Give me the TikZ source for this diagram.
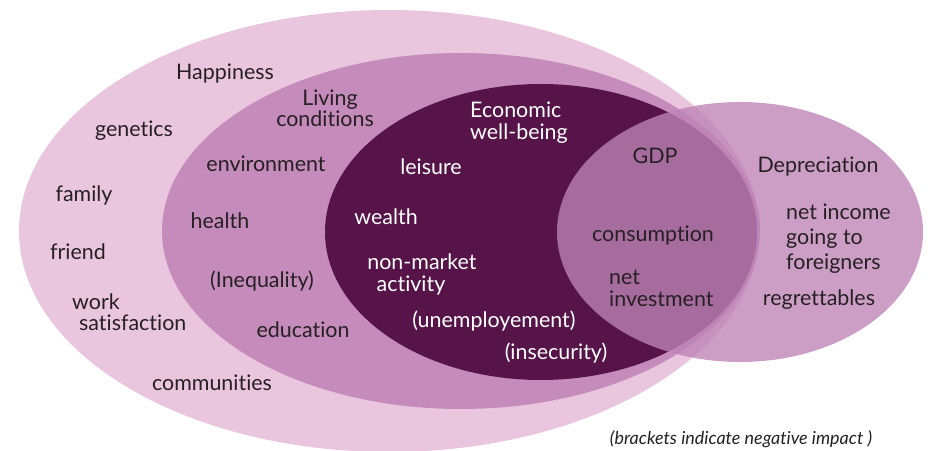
\documentclass[tikz,border=0pt]{standalone}
\usepackage{fontspec}
\setmainfont{Lato}[Ligatures=NoCommon]
\usetikzlibrary{calc, positioning}

\definecolor{happy-pink}{RGB}{233,198,221}
\definecolor{living-pink}{RGB}{196,139,187}
\definecolor{econ-plum}{RGB}{86,20,73}
\definecolor{gdp-mauve}{RGB}{190,132,182}
\definecolor{label-ink}{RGB}{38,32,35}

\tikzset{
  dark-label/.style={text=label-ink, inner sep=0pt, font=\fontsize{21.5}{22}\selectfont},
  light-label/.style={dark-label, text=white},
  note-label/.style={text=label-ink, inner sep=0pt, font=\fontsize{18}{19}\selectfont\itshape}
}

\begin{document}
\begin{tikzpicture}[x=1bp, y=-1bp]

  \useasboundingbox (0, 0) rectangle (933, 451);

  \coordinate (happy-c)  at (389, 231);
  \coordinate (living-c) at (461, 231);
  \coordinate (econ-c)   at (541, 232);
  \coordinate (gdp-c)    at (740, 232);

  % nested circles
  \fill[happy-pink]  (happy-c)  ellipse[x radius=370, y radius=221];
  \fill[living-pink] (living-c) ellipse[x radius=299, y radius=178];
  \fill[econ-plum]   (econ-c)   ellipse[x radius=216, y radius=148];

  % gdp circle on top
  \fill[gdp-mauve, opacity=0.79] (gdp-c) ellipse[x radius=183, y radius=130];

  % happiness ring
  \node[dark-label, anchor=base] (happiness)    at (225,  80) {Happiness};
  \node[dark-label, anchor=base] (genetics)     at (134, 137) {genetics};
  \node[dark-label, anchor=base] (family)       at ( 84, 202) {family};
  \node[dark-label, anchor=base] (friend)       at ( 78, 260) {friend};
  \node[dark-label, anchor=base west] (work)    at ( 72, 310) {work};
  \node[dark-label, anchor=base west] (satisfaction) at (79, 331) {satisfaction};
  \node[dark-label, anchor=base] (communities)  at (212, 390) {communities};

  % living conditions ring
  \node[dark-label, anchor=base] (living)       at (330, 106) {Living};
  \node[dark-label, anchor=base] (conditions)   at (325, 127) {conditions};
  \node[dark-label, anchor=base] (environment)  at (266, 172) {environment};
  \node[dark-label, anchor=base] (health)       at (220, 229) {health};
  \node[dark-label, anchor=base] (inequality)   at (262, 288) {(Inequality)};
  \node[dark-label, anchor=base] (education)    at (303, 338) {education};

  % economic well-being
  \node[light-label, anchor=base west] (economic)   at (470, 118) {Economic};
  \node[light-label, anchor=base west] (well-being) at (470, 140) {well-being};
  \node[light-label, anchor=base] (leisure)        at (431, 175) {leisure};
  \node[light-label, anchor=base] (wealth)         at (386, 225) {wealth};
  \node[light-label, anchor=base] (non-market)     at (422, 270) {non-market};
  \node[light-label, anchor=base] (activity)       at (411, 292) {activity};
  \node[light-label, anchor=base] (unemployement)  at (494, 328) {(unemployement)};
  \node[light-label, anchor=base] (insecurity)     at (556, 360) {(insecurity)};

  % gdp
  \node[dark-label, anchor=base] (gdp)           at (655, 164) {GDP};
  \node[dark-label, anchor=base] (consumption)   at (653, 242) {consumption};
  \node[dark-label, anchor=base west] (net)      at (609, 285) {net};
  \node[dark-label, anchor=base west] (investment) at (609, 307) {investment};
  \node[dark-label, anchor=base] (depreciation)  at (818, 173) {Depreciation};
  \node[dark-label, anchor=base west] (net-income) at (786, 220) {net income};
  \node[dark-label, anchor=base west] (going-to)   at (786, 245) {going to};
  \node[dark-label, anchor=base west] (foreigners) at (786, 270) {foreigners};
  \node[dark-label, anchor=base] (regrettables)  at (819, 306) {regrettables};

  \node[note-label, anchor=base] (note) at (741, 444) {(brackets indicate negative impact )};

\end{tikzpicture}
\end{document}
